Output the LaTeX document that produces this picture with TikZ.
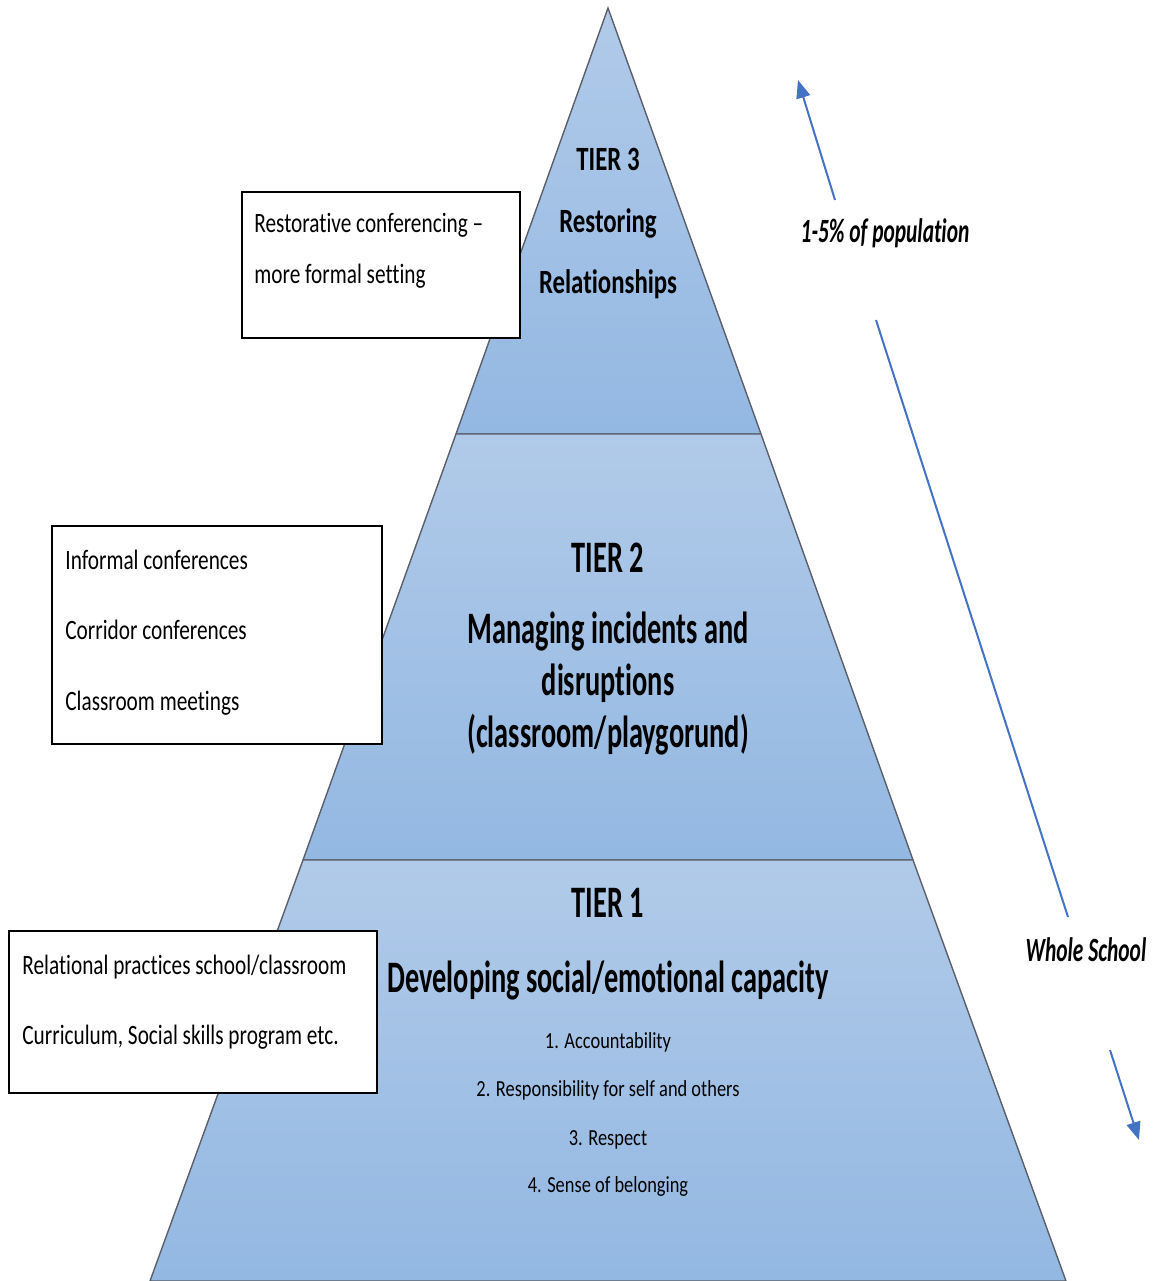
\documentclass[tikz,border=0pt]{standalone}
\usepackage{fontspec}
\setmainfont{Carlito}[FakeStretch=0.63,Ligatures=NoCommon]
\newfontfamily\tierthreefont{Carlito}[FakeStretch=0.73,Ligatures=NoCommon]
\newfontfamily\boxfont{Carlito}[FakeStretch=0.76,Ligatures=NoCommon]
\newfontfamily\listfont{Carlito}[FakeStretch=0.80,Ligatures=NoCommon]
\usetikzlibrary{arrows.meta}
\definecolor{tiertop}{RGB}{177,202,233}
\definecolor{tierbot}{RGB}{147,184,226}
\definecolor{edgegray}{RGB}{90,95,105}
\definecolor{arrowblue}{RGB}{68,114,196}
\tikzset{
  tier/.style={top color=tiertop, bottom color=tierbot, draw=edgegray, line width=0.7pt},
  sidebox/.style={draw=black, fill=white, line width=0.6pt},
  bigtitle/.style={anchor=base, inner sep=0pt, font=\fontsize{22.5}{26}\selectfont\bfseries},
  midtitle/.style={anchor=base, inner sep=0pt, font=\tierthreefont\fontsize{17}{20}\selectfont\bfseries},
  listitem/.style={anchor=base, inner sep=0pt, font=\listfont\fontsize{11.5}{14}\selectfont},
  boxtext/.style={anchor=base west, inner sep=0pt, font=\boxfont\fontsize{14}{17}\selectfont},
  sidelabel/.style={inner sep=0pt, font=\fontsize{17}{20}\selectfont\bfseries\itshape},
  bluearrow/.style={draw=arrowblue, line width=1pt, -{Triangle[length=9pt,width=7pt]}},
  blueline/.style={draw=arrowblue, line width=1pt}
}
\begin{document}
\begin{tikzpicture}[x=0.5pt, y=-0.5pt]
\useasboundingbox (0,0) rectangle (1153,1281);
% pyramid tiers
\path[tier] (608,8) -- (761,434) -- (456,434) -- cycle;
\path[tier] (456,434) -- (761,434) -- (913,860) -- (303,860) -- cycle;
\path[tier] (303,860) -- (913,860) -- (1066,1281) -- (150,1281) -- cycle;
% tier 3 text
\node[midtitle] (t3a) at (608,170) {TIER 3};
\node[midtitle] (t3b) at (608,232) {Restoring};
\node[midtitle] (t3c) at (608,293) {Relationships};
% tier 2 text
\node[bigtitle] (t2a) at (608,572) {TIER 2};
\node[bigtitle] (t2b) at (608,643) {Managing incidents and};
\node[bigtitle] (t2c) at (608,695) {disruptions};
\node[bigtitle] (t2d) at (608,747) {(classroom/playgorund)};
% tier 1 text
\node[bigtitle] (t1a) at (608,917) {TIER 1};
\node[bigtitle] (t1b) at (608,992) {Developing social/emotional capacity};
\node[listitem] (l1) at (608,1048) {1. Accountability};
\node[listitem] (l2) at (608,1096) {2. Responsibility for self and others};
\node[listitem] (l3) at (608,1145) {3. Respect};
\node[listitem] (l4) at (608,1192) {4. Sense of belonging};
% side boxes
\draw[sidebox] (242,192) rectangle (520,338);
\node[boxtext] (b1a) at (254,232) {Restorative conferencing –};
\node[boxtext] (b1b) at (254,283) {more formal setting};
\draw[sidebox] (52,526) rectangle (382,744);
\node[boxtext] (b2a) at (65,569) {Informal conferences};
\node[boxtext] (b2b) at (65,639) {Corridor conferences};
\node[boxtext] (b2c) at (65,710) {Classroom meetings};
\draw[sidebox] (9,931) rectangle (377,1093);
\node[boxtext] (b3a) at (22,974) {Relational practices school/classroom};
\node[boxtext] (b3b) at (22,1044) {Curriculum, Social skills program etc.};
% right-hand arrows and labels
\node[sidelabel] (pop) at (885,233) {1-5\% of population};
\node[sidelabel] (whole) at (1086,950) {Whole School};
\coordinate (upstart) at (835,200);
\coordinate (uptip) at (798,80);
\coordinate (midstart) at (876,320);
\coordinate (midend) at (1068,917);
\coordinate (dnstart) at (1110,1050);
\coordinate (dntip) at (1139,1140);
\draw[bluearrow] (upstart) -- (uptip);
\draw[blueline] (midstart) -- (midend);
\draw[bluearrow] (dnstart) -- (dntip);
\end{tikzpicture}
\end{document}
